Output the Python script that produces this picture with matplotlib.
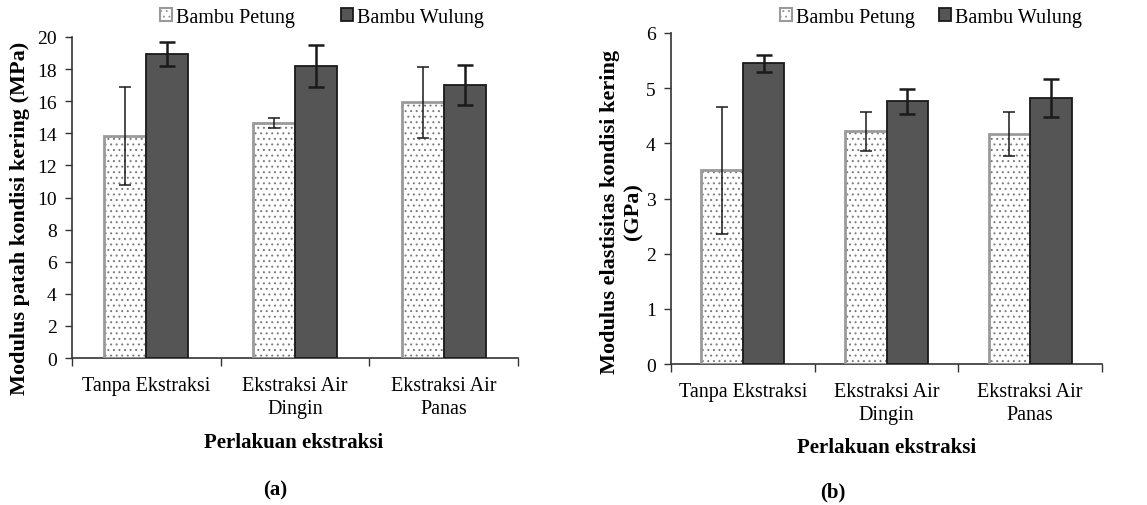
import matplotlib
matplotlib.use("Agg")
import matplotlib.pyplot as plt
import numpy as np

plt.rcParams['font.family'] = ['Liberation Serif', 'DejaVu Serif']
plt.rcParams['hatch.linewidth'] = 0.7

categories = ['Tanpa Ekstraksi', 'Ekstraksi Air\nDingin', 'Ekstraksi Air\nPanas']
series = ['Bambu Petung', 'Bambu Wulung']

# (a) modulus patah (MPa)
mor_petung = [13.83, 14.64, 15.93]
mor_petung_err = [3.05, 0.30, 2.20]
mor_wulung = [18.94, 18.19, 17.03]
mor_wulung_err = [0.76, 1.30, 1.25]

# (b) modulus elastisitas (GPa)
moe_petung = [3.51, 4.22, 4.17]
moe_petung_err = [1.15, 0.35, 0.40]
moe_wulung = [5.45, 4.76, 4.82]
moe_wulung_err = [0.16, 0.23, 0.35]

W, H = 1147, 506
fig = plt.figure(figsize=(W / 100, H / 100), dpi=100)


def panel(rect, petung, petung_err, wulung, wulung_err, ymax, ystep, bw):
    ax = fig.add_axes(rect)
    x = np.arange(len(categories))
    # petung: white with dots, gray border
    ax.bar(x - bw / 2, petung, bw, color='white', edgecolor='#7a7a7a',
           hatch='...', linewidth=0, zorder=2)
    ax.bar(x - bw / 2, petung, bw, color='none', edgecolor='#9a9a9a',
           linewidth=2, zorder=3)
    ax.bar(x + bw / 2, wulung, bw, color='#555555', edgecolor='#1a1a1a',
           linewidth=1.3, zorder=3)
    ax.errorbar(x - bw / 2, petung, yerr=petung_err, fmt='none', ecolor='#1a1a1a',
                elinewidth=1.1, capsize=4.5, capthick=1.1, zorder=4)
    ax.errorbar(x + bw / 2, wulung, yerr=wulung_err, fmt='none', ecolor='#1a1a1a',
                elinewidth=1.8, capsize=5.5, capthick=1.8, zorder=4)

    ax.set_xlim(-0.5, len(categories) - 0.5)
    ax.set_ylim(0, ymax)
    ax.set_yticks(np.arange(0, ymax + 0.01, ystep))
    ax.set_xticks(np.arange(-0.5, len(categories), 1.0))
    ax.set_xticklabels([])
    ax.set_xticks(x, minor=True)
    ax.set_xticklabels(categories, minor=True, fontsize=14.5, linespacing=1.3)
    ax.tick_params(axis='x', which='minor', length=0, pad=13)
    ax.tick_params(axis='x', which='major', length=6, width=1, color='#333333')
    ax.tick_params(axis='y', length=5, width=1, color='#333333', labelsize=14, pad=6)
    for s in ['top', 'right']:
        ax.spines[s].set_visible(False)
    for s in ['left', 'bottom']:
        ax.spines[s].set_color('#333333')
        ax.spines[s].set_linewidth(1.2)
    return ax


ax1 = panel([72 / W, 1 - 359 / H, (518 - 72) / W, (359 - 38) / H],
            mor_petung, mor_petung_err, mor_wulung, mor_wulung_err, 20, 2, 0.282)
ax2 = panel([671 / W, 1 - 365 / H, (1102 - 671) / W, (365 - 34) / H],
            moe_petung, moe_petung_err, moe_wulung, moe_wulung_err, 6, 1, 0.29)

fig.text(20 / W, 1 - 218 / H, 'Modulus patah kondisi kering (MPa)', rotation=90,
         ha='center', va='center', fontsize=16, fontweight='bold')
fig.text(622 / W, 1 - 212 / H, 'Modulus elastisitas kondisi kering\n(GPa)', rotation=90,
         ha='center', va='center', fontsize=16, fontweight='bold', multialignment='center',
         linespacing=1.25)

fig.text(294 / W, 1 - 443 / H, 'Perlakuan ekstraksi', ha='center', va='center',
         fontsize=15, fontweight='bold')
fig.text(887 / W, 1 - 448 / H, 'Perlakuan ekstraksi', ha='center', va='center',
         fontsize=15, fontweight='bold')
fig.text(275 / W, 1 - 490 / H, '(a)', ha='center', va='center', fontsize=15, fontweight='bold')
fig.text(833 / W, 1 - 492 / H, '(b)', ha='center', va='center', fontsize=15, fontweight='bold')

for ax, lx, gap in [(ax1, 160, 2.3), (ax2, 780, 1.2)]:
    handles = [ax.containers[0], ax.containers[2]]
    leg = fig.legend(handles, series, loc='center left',
                     bbox_to_anchor=(lx / W, 1 - 18 / H), ncol=2, frameon=False,
                     fontsize=14.5, handlelength=0.6, handleheight=0.6,
                     handletextpad=0.2, columnspacing=gap, borderaxespad=0,
                     borderpad=0)
    leg.legend_handles[0].set_edgecolor('#9a9a9a')
    leg.legend_handles[0].set_linewidth(1.5)

fig.savefig('out.png', dpi=100)
